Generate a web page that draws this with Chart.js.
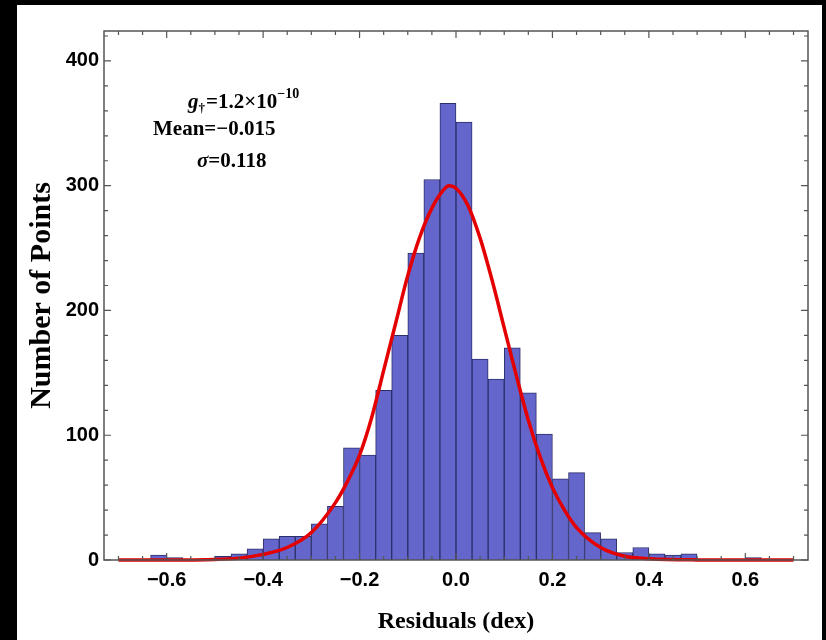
<!DOCTYPE html>
<html>
<head>
<meta charset="utf-8">
<script src="https://cdn.jsdelivr.net/npm/chart.js@4/dist/chart.umd.min.js"></script>
<style>
  html, body { margin: 0; padding: 0; background: #000; }
  body { width: 826px; height: 640px; position: relative; overflow: hidden; }
  #chart { position: absolute; left: 17px; top: 5px; background: #fff; }
</style>
</head>
<body>
<canvas id="chart" width="805" height="635"></canvas>
<script>
// histogram bins (centres, width 1/30 dex) and counts
const binCenters = [-0.6833, -0.65, -0.6167, -0.5833, -0.55, -0.5167, -0.4833, -0.45, -0.4167, -0.3833,
  -0.35, -0.3167, -0.2833, -0.25, -0.2167, -0.1833, -0.15, -0.1167, -0.0833, -0.05, -0.0167,
  0.0167, 0.05, 0.0833, 0.1167, 0.15, 0.1833, 0.2167, 0.25, 0.2833, 0.3167, 0.35, 0.3833,
  0.4167, 0.45, 0.4833, 0.5167, 0.55, 0.5833, 0.6167, 0.65, 0.6833];
const binCounts = [0, 0, 4, 2, 0, 0, 3, 5, 9, 17, 19, 19, 29, 43, 90, 84, 136, 180, 246, 305, 366,
  351, 161, 145, 170, 134, 101, 65, 70, 22, 17, 6, 10, 5, 4, 5, 0, 0, 0, 2, 0, 0];

// red fit curve
const fitX = [-0.70, -0.60, -0.50, -0.45, -0.40, -0.35, -0.30, -0.25, -0.225, -0.20, -0.175, -0.15,
  -0.125, -0.10, -0.075, -0.05, -0.025, -0.015, 0.00, 0.025, 0.05, 0.075, 0.10, 0.125, 0.15,
  0.175, 0.20, 0.225, 0.25, 0.30, 0.35, 0.40, 0.50, 0.60, 0.70];
const fitY = [0, 0, 0.4, 1.5, 4.5, 10, 22, 46, 63, 84, 114, 152,
  190, 228, 259, 282, 297, 300, 298, 284, 258, 224, 186, 148, 112,
  82, 58, 40, 26, 10, 3, 1, 0.1, 0, 0];

// axis ticks
const xMajor = [-0.6, -0.4, -0.2, 0.0, 0.2, 0.4, 0.6];
const xMinor = [-0.7, -0.65, -0.55, -0.5, -0.45, -0.35, -0.3, -0.25, -0.15, -0.1, -0.05,
  0.05, 0.1, 0.15, 0.25, 0.3, 0.35, 0.45, 0.5, 0.55, 0.65, 0.7];
const yMajor = [0, 100, 200, 300, 400];
const yMinor = [20, 40, 60, 80, 120, 140, 160, 180, 220, 240, 260, 280, 320, 340, 360, 380, 420];

const tickFont = { family: "'Liberation Sans', Arial, sans-serif", size: 20, weight: "bold" };
const titleFamily = "'Liberation Serif', 'Times New Roman', serif";

function minusFmt(v) {
  if (v === 0) return "0.0";
  return (v < 0 ? "\u2212" : "") + Math.abs(v).toFixed(1);
}

//frame with inward ticks on all four sides
const framePlugin = {
  id: "frame",
  afterDatasetsDraw(chart) {
    const { ctx, chartArea: a, scales } = chart;
    ctx.save();
    ctx.strokeStyle = "#555";
    ctx.lineWidth = 1.5;
    ctx.strokeRect(a.left, a.top, a.right - a.left, a.bottom - a.top);
    ctx.lineWidth = 1.2;
    ctx.beginPath();
    const xt = (vals, len) => vals.forEach((v) => {
      const px = scales.x.getPixelForValue(v);
      ctx.moveTo(px, a.bottom); ctx.lineTo(px, a.bottom - len);
      ctx.moveTo(px, a.top); ctx.lineTo(px, a.top + len);
    });
    const yt = (vals, len) => vals.forEach((v) => {
      const py = scales.y.getPixelForValue(v);
      ctx.moveTo(a.left, py); ctx.lineTo(a.left + len, py);
      ctx.moveTo(a.right, py); ctx.lineTo(a.right - len, py);
    });
    xt(xMajor, 7); xt(xMinor, 4);
    yt(yMajor, 7); yt(yMinor, 4);
    ctx.stroke();
    ctx.restore();
  }
};

//fit parameters text block
const notePlugin = {
  id: "note",
  afterDraw(chart) {
    const { ctx, chartArea: a } = chart;
    const x0 = a.left, y0 = a.top;
    ctx.save();
    ctx.fillStyle = "#000";
    ctx.textBaseline = "alphabetic";
    let x = x0 + 84;
    ctx.font = "italic bold 21px " + titleFamily;
    ctx.fillText("g", x, y0 + 77);
    x += ctx.measureText("g").width;
    ctx.font = "bold 13px " + titleFamily;
    ctx.fillText("\u2020", x, y0 + 81);
    x += ctx.measureText("\u2020").width + 1;
    ctx.font = "bold 21px " + titleFamily;
    ctx.fillText("=1.2\u00d710", x, y0 + 77);
    x += ctx.measureText("=1.2\u00d710").width;
    ctx.font = "bold 14px " + titleFamily;
    ctx.fillText("\u221210", x, y0 + 67);

    ctx.font = "bold 21px " + titleFamily;
    ctx.fillText("Mean=\u22120.015", x0 + 49, y0 + 104);
    x = x0 + 93;
    ctx.font = "italic bold 21px " + titleFamily;
    ctx.fillText("\u03c3", x, y0 + 136);
    x += ctx.measureText("\u03c3").width;
    ctx.font = "bold 21px " + titleFamily;
    ctx.fillText("=0.118", x, y0 + 136);
    ctx.restore();
  }
};

const bars = binCenters.map((c, i) => ({ x: c, y: binCounts[i] }));
const curve = fitX.map((c, i) => ({ x: c, y: fitY[i] }));

new Chart(document.getElementById("chart"), {
  type: "bar",
  data: {
    datasets: [
      {
        type: "line",
        data: curve,
        borderColor: "#e40000",
        borderWidth: 3.5,
        pointRadius: 0,
        cubicInterpolationMode: "monotone",
        clip: false,
        order: 0,
      },
      {
        data: bars,
        backgroundColor: "#6466cc",
        borderColor: "#2c2f6a",
        borderWidth: 1,
        barPercentage: 1,
        categoryPercentage: 1,
        grouped: false,
        order: 1,
      },
    ],
  },
  options: {
    responsive: false,
    animation: false,
    layout: { padding: { left: 0, top: 26, right: 14, bottom: 0 } },
    plugins: { legend: { display: false }, tooltip: { enabled: false } },
    scales: {
      x: {
        type: "linear",
        min: -0.73,
        max: 0.73,
        offset: false,
        grid: { display: false, tickLength: 0 },
        border: { display: false },
        afterBuildTicks: (s) => { s.ticks = xMajor.map((v) => ({ value: v })); },
        afterFit: (s) => { s.height = 80; },
        ticks: { font: tickFont, color: "#000", padding: 8, maxRotation: 0, autoSkip: false, callback: minusFmt },
        title: {
          display: true,
          text: "Residuals (dex)",
          color: "#000",
          font: { family: titleFamily, size: 24, weight: "bold" },
          padding: { top: 0, bottom: 4 },
        },
      },
      y: {
        min: 0,
        max: 424,
        grid: { display: false, tickLength: 0 },
        border: { display: false },
        afterBuildTicks: (s) => { s.ticks = yMajor.map((v) => ({ value: v })); },
        afterFit: (s) => { s.width = 87; },
        ticks: { font: tickFont, color: "#000", padding: 5 },
        title: {
          display: true,
          text: "Number of Points",
          color: "#000",
          font: { family: titleFamily, size: 30, weight: "bold" },
          padding: { top: 7, bottom: 0 },
        },
      },
    },
  },
  plugins: [framePlugin, notePlugin],
});
</script>
</body>
</html>
